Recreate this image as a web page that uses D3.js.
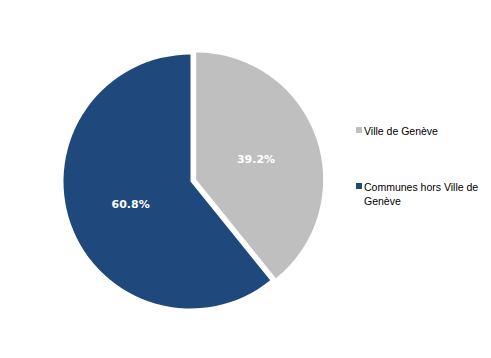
<!DOCTYPE html>
<html><head><meta charset="utf-8">
<script src="https://cdn.jsdelivr.net/npm/d3@7"></script>
<style>body{margin:0;background:#fff}svg{display:block}</style>
</head><body>
<svg id="c" width="491" height="358"></svg>
<script>
const categories = ["Ville de Genève", "Communes hors Ville de Genève"];
const values = [39.2, 60.8];
const colors = ["#BFBFBF", "#1F497D"];
const legendLines = [["Ville de Genève"], ["Communes hors Ville de", "Genève"]];

const svg = d3.select("#c");
const cx = 190.5, cy = 181.5, r = 127, explode = 6;
const data = categories.map((c, i) => ({cat: c, value: values[i], color: colors[i]}));
const pie = d3.pie().value(d => d.value).sort(null);
const arc = d3.arc().innerRadius(0).outerRadius(r);
const arcs = pie(data);
const g = svg.append("g").attr("transform", `translate(${cx},${cy})`);
arcs.forEach((a, i) => {
  const mid = (a.startAngle + a.endAngle) / 2;
  const off = i === 0 ? explode : 0;
  const dx = Math.sin(mid) * off, dy = -Math.cos(mid) * off;
  const sg = g.append("g").attr("transform", `translate(${dx},${dy})`);
  sg.append("path").attr("d", arc(a)).attr("fill", a.data.color);
  const [lx, ly] = arc.centroid(a);
  sg.append("text").attr("x", lx).attr("y", ly + 5)
    .attr("text-anchor", "middle")
    .attr("font-family", "DejaVu Sans, sans-serif")
    .attr("font-size", 11).attr("font-weight", "bold").attr("fill", "#fff")
    .text(a.data.value.toFixed(1) + "%");
});
const legY = [131, 187];
legendLines.forEach((lines, i) => {
  svg.append("rect").attr("x", 356).attr("y", legY[i] - 4).attr("width", 6).attr("height", 6).attr("fill", colors[i]);
  const t = svg.append("text").attr("x", 364).attr("y", legY[i] + 4)
    .attr("font-family", "Liberation Sans, Arial, sans-serif").attr("font-size", 10.5).attr("fill", "#000");
  lines.forEach((l, j) => t.append("tspan").attr("x", 364).attr("dy", j === 0 ? 0 : 14).text(l));
});
</script>
</body></html>
